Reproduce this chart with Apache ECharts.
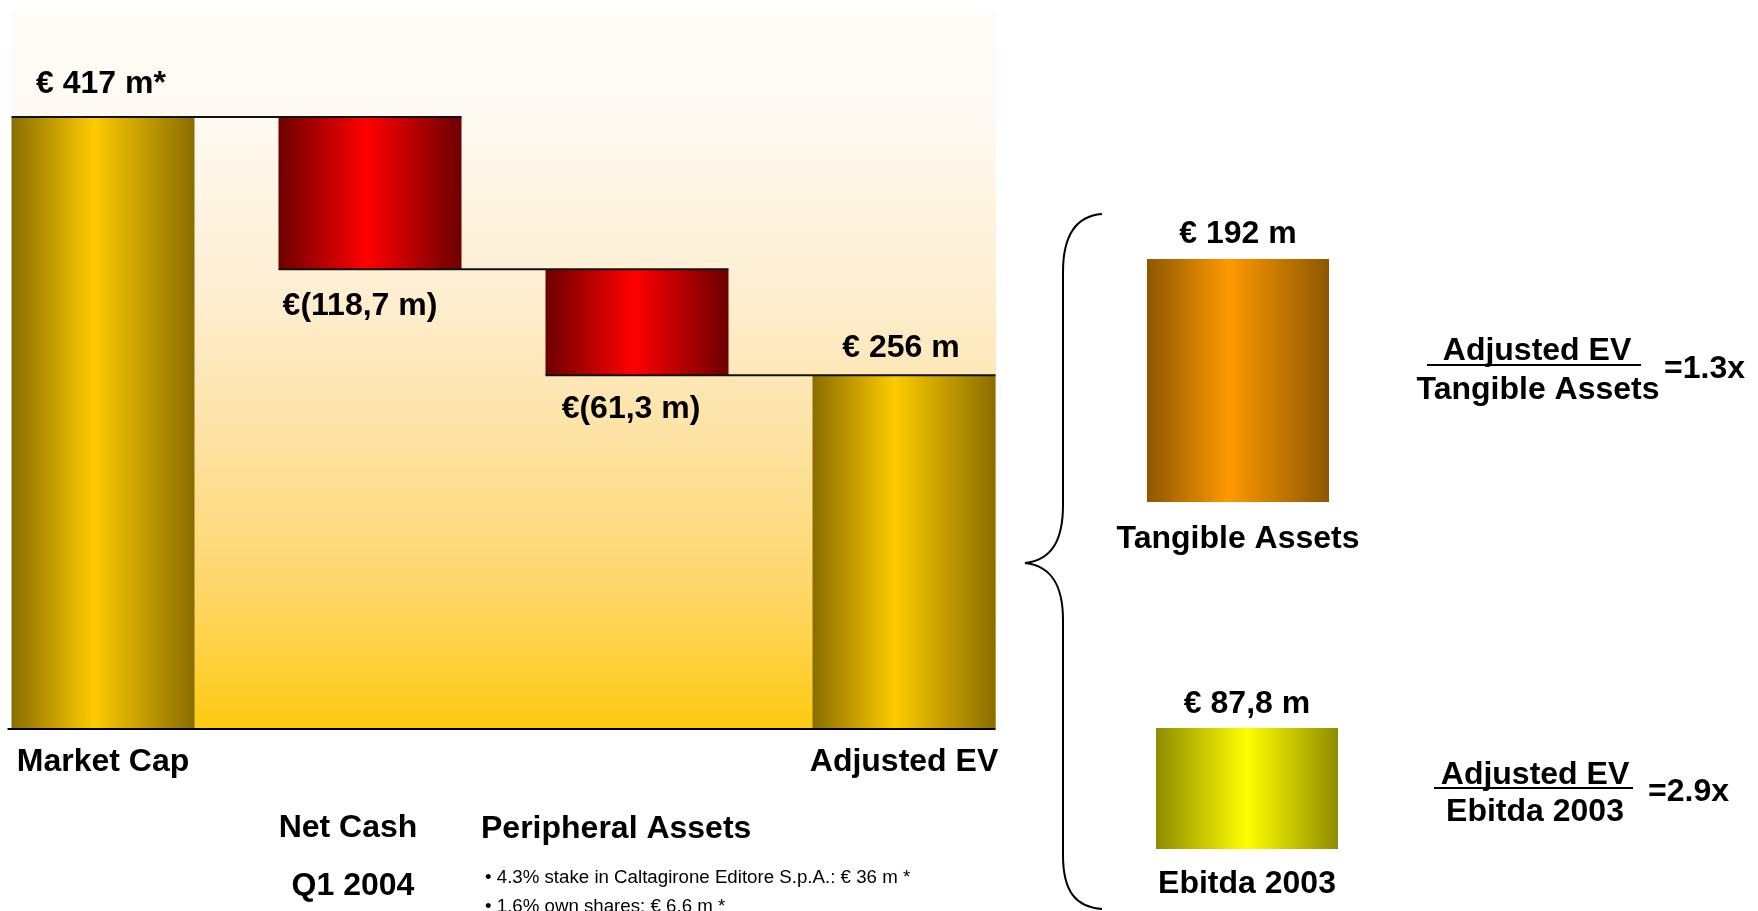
<!DOCTYPE html>
<html>
<head>
<meta charset="utf-8">
<title>Market Cap to Adjusted EV</title>
<script src="https://cdn.jsdelivr.net/npm/echarts@6/dist/echarts.min.js"></script>
<style>
html,body{margin:0;padding:0;background:#fff}
#chart{width:1758px;height:911px}
</style>
</head>
<body>
<div id="chart"></div>
<script>
// waterfall: heights as drawn on the slide (the slide is not to scale with its printed amounts)
var categories = ['Market Cap', 'Net Cash', 'Peripheral Assets', 'Adjusted EV'];
var barHeights = [417, 103.7, 72.3, 241];
var barKinds = ['total', 'minus', 'minus', 'total'];
var barLabels = ['€ 417 m*', '€(118,7 m)', '€(61,3 m)', '€ 256 m'];

// right hand side
var ratioNames = ['Tangible Assets', 'Ebitda 2003'];
var ratioValues = [192, 87.8];
var ratioLabels = ['€ 192 m', '€ 87,8 m'];
var multiples = ['=1.3x', '=2.9x'];

// notes under the waterfall
var netCashNote = ['Net Cash', 'Q1 2004'];
var peripheralTitle = 'Peripheral Assets';
var peripheralItems = ['4.3% stake in Caltagirone Editore S.p.A.: € 36 m *', '1.6% own shares: € 6,6 m *'];

var FONT = '"Liberation Sans", Arial, Helvetica, sans-serif';
var BAR_W = 183;
var BIG = 32;

function hGrad(edge, mid, pos) {
	return new echarts.graphic.LinearGradient(0, 0, 1, 0, [
		{offset: 0, color: edge},
		{offset: pos, color: mid},
		{offset: 1, color: edge}
	]);
}
var kindFill = {
	total: hGrad('#8a6d00', '#fecb00', 0.45),
	minus: hGrad('#6c0000', '#ff0000', 0.48)
};
var ratioFill = [hGrad('#8d5700', '#fe9900', 0.45), hGrad('#8f8b00', '#ffff00', 0.5)];

// stacked waterfall: invisible base + visible step
var bases = [], levels = [], level = 0;
barHeights.forEach(function (h, i) {
	if (barKinds[i] === 'total') {
		bases.push(0);
		level = h;
	} else {
		level -= h;
		bases.push(level);
	}
	levels.push(level);
});

var labelDistance = [17, 21, 18, 11];
var labelShiftX = [-2, -10, -6, -3];

var stepData = barHeights.map(function (h, i) {
	return {
		value: h,
		itemStyle: {color: kindFill[barKinds[i]]},
		label: {
			show: true,
			position: barKinds[i] === 'total' ? 'top' : 'bottom',
			distance: labelDistance[i],
			offset: [labelShiftX[i], 0],
			formatter: barLabels[i]
		}
	};
});

var connectorData = [];
for (var i = 0; i < levels.length - 1; i++) {
	connectorData.push([i, levels[i]]);
}

var bigText = {fontFamily: FONT, fontSize: BIG, fontWeight: 'bold', color: '#000'};

function txt(x, y, text, size, weight, align) {
	return {
		type: 'text', x: x, y: y, silent: true,
		style: {
			text: text, fill: '#000', align: align || 'center', verticalAlign: 'middle',
			font: (weight || 'bold') + ' ' + size + 'px ' + FONT
		}
	};
}
function seg(x1, y1, x2, y2) {
	return {type: 'line', silent: true, shape: {x1: x1, y1: y1, x2: x2, y2: y2}, style: {stroke: '#000', lineWidth: 2}};
}
function curve(x1, y1, c1x, c1y, c2x, c2y, x2, y2) {
	return {
		type: 'bezierCurve', silent: true,
		shape: {x1: x1, y1: y1, cpx1: c1x, cpy1: c1y, cpx2: c2x, cpy2: c2y, x2: x2, y2: y2},
		style: {fill: null, stroke: '#000', lineWidth: 2}
	};
}

var chart = echarts.init(document.getElementById('chart'));

var option = {
	backgroundColor: '#fff',
	animation: false,
	textStyle: {fontFamily: FONT},
	grid: [
		{left: 103, top: 10, width: 801, height: 719},
		{left: 1147, top: 259, width: 182, height: 243},
		{left: 1156, top: 728, width: 182, height: 121}
	],
	xAxis: [
		{
			type: 'category', gridIndex: 0, data: categories, boundaryGap: false,
			axisLine: {show: false}, axisTick: {show: false},
			axisLabel: Object.assign({
				interval: 0, margin: 17,
				formatter: function (v, idx) { return barKinds[idx] === 'total' ? v : ''; }
			}, bigText)
		},
		{
			type: 'category', gridIndex: 1, data: [ratioNames[0]],
			axisLine: {show: false}, axisTick: {show: false},
			axisLabel: Object.assign({margin: 21}, bigText)
		},
		{
			type: 'category', gridIndex: 2, data: [ratioNames[1]],
			axisLine: {show: false}, axisTick: {show: false},
			axisLabel: Object.assign({margin: 19}, bigText)
		}
	],
	yAxis: [
		{type: 'value', gridIndex: 0, min: 0, max: 490, show: false},
		{type: 'value', gridIndex: 1, min: 0, max: ratioValues[0], show: false},
		{type: 'value', gridIndex: 2, min: 0, max: ratioValues[1], show: false}
	],
	series: [
		{
			name: 'base', type: 'bar', stack: 'w', barWidth: BAR_W, silent: true, clip: false,
			itemStyle: {color: 'rgba(0,0,0,0)'},
			data: bases
		},
		{
			name: 'step', type: 'bar', stack: 'w', barWidth: BAR_W, clip: false,
			label: bigText,
			data: stepData
		},
		{
			name: 'connectors', type: 'custom', z: 5, clip: false,
			renderItem: function (params, api) {
				var i = api.value(0), lv = api.value(1);
				var p = api.coord([i, lv]);
				var q = api.coord([i + 1, lv]);
				return {
					type: 'line',
					shape: {x1: p[0] - BAR_W / 2, y1: p[1], x2: q[0] + BAR_W / 2, y2: q[1]},
					style: {stroke: '#111', lineWidth: 2}
				};
			},
			data: connectorData
		},
		{
			name: 'baseline', type: 'custom', z: 5, clip: false,
			renderItem: function (params, api) {
				var a = api.coord([0, 0]);
				var b = api.coord([categories.length - 1, 0]);
				return {
					type: 'line',
					shape: {x1: a[0] - BAR_W / 2 - 4, y1: a[1], x2: b[0] + BAR_W / 2, y2: b[1]},
					style: {stroke: '#000', lineWidth: 2}
				};
			},
			data: [[0, 0]]
		},
		{
			name: ratioNames[0], type: 'bar', xAxisIndex: 1, yAxisIndex: 1, barWidth: '100%',
			itemStyle: {color: ratioFill[0]},
			label: Object.assign({show: true, position: 'top', distance: 9, formatter: ratioLabels[0]}, bigText),
			data: [ratioValues[0]]
		},
		{
			name: ratioNames[1], type: 'bar', xAxisIndex: 2, yAxisIndex: 2, barWidth: '100%',
			itemStyle: {color: ratioFill[1]},
			label: Object.assign({show: true, position: 'top', distance: 8, formatter: ratioLabels[1]}, bigText),
			data: [ratioValues[1]]
		}
	],
	graphic: [
		{
			type: 'rect', z: -10, silent: true,
			shape: {x: 12, y: 10, width: 984, height: 719},
			style: {
				fill: new echarts.graphic.LinearGradient(0, 0, 0, 1, [
					{offset: 0, color: '#fefcf8'},
					{offset: 0.15, color: '#fefaf2'},
					{offset: 0.4, color: '#feeed0'},
					{offset: 0.6, color: '#fde2a2'},
					{offset: 0.8, color: '#fdd76c'},
					{offset: 1, color: '#fdcb10'}
				])
			}
		},
		// curly brace
		curve(1102, 214, 1076, 216, 1063, 236, 1063, 272),
		seg(1063, 272, 1063, 505),
		curve(1063, 505, 1063, 540, 1052, 560, 1025, 563),
		curve(1025, 563, 1052, 566, 1063, 586, 1063, 620),
		seg(1063, 620, 1063, 855),
		curve(1063, 855, 1063, 892, 1076, 907, 1102, 909),
		// Adjusted EV / Tangible Assets
		txt(1537, 351, 'Adjusted EV', BIG),
		seg(1427, 365, 1641, 365),
		txt(1538, 390, ratioNames[0], BIG),
		txt(1664, 369, multiples[0], BIG, 'bold', 'left'),
		// Adjusted EV / Ebitda
		txt(1535, 775, 'Adjusted EV', BIG),
		seg(1434, 788, 1633, 788),
		txt(1535, 812, ratioNames[1], BIG),
		txt(1648, 792, multiples[1], BIG, 'bold', 'left'),
		// notes
		txt(348, 828, netCashNote[0], BIG),
		txt(353, 886, netCashNote[1], BIG),
		txt(481, 829, peripheralTitle, BIG, 'bold', 'left'),
		txt(485, 878, '\u2022 ' + peripheralItems[0], 18.7, 'normal', 'left'),
		txt(485, 907, '\u2022 ' + peripheralItems[1], 18.7, 'normal', 'left')
	]
};

chart.setOption(option);
</script>
</body>
</html>
